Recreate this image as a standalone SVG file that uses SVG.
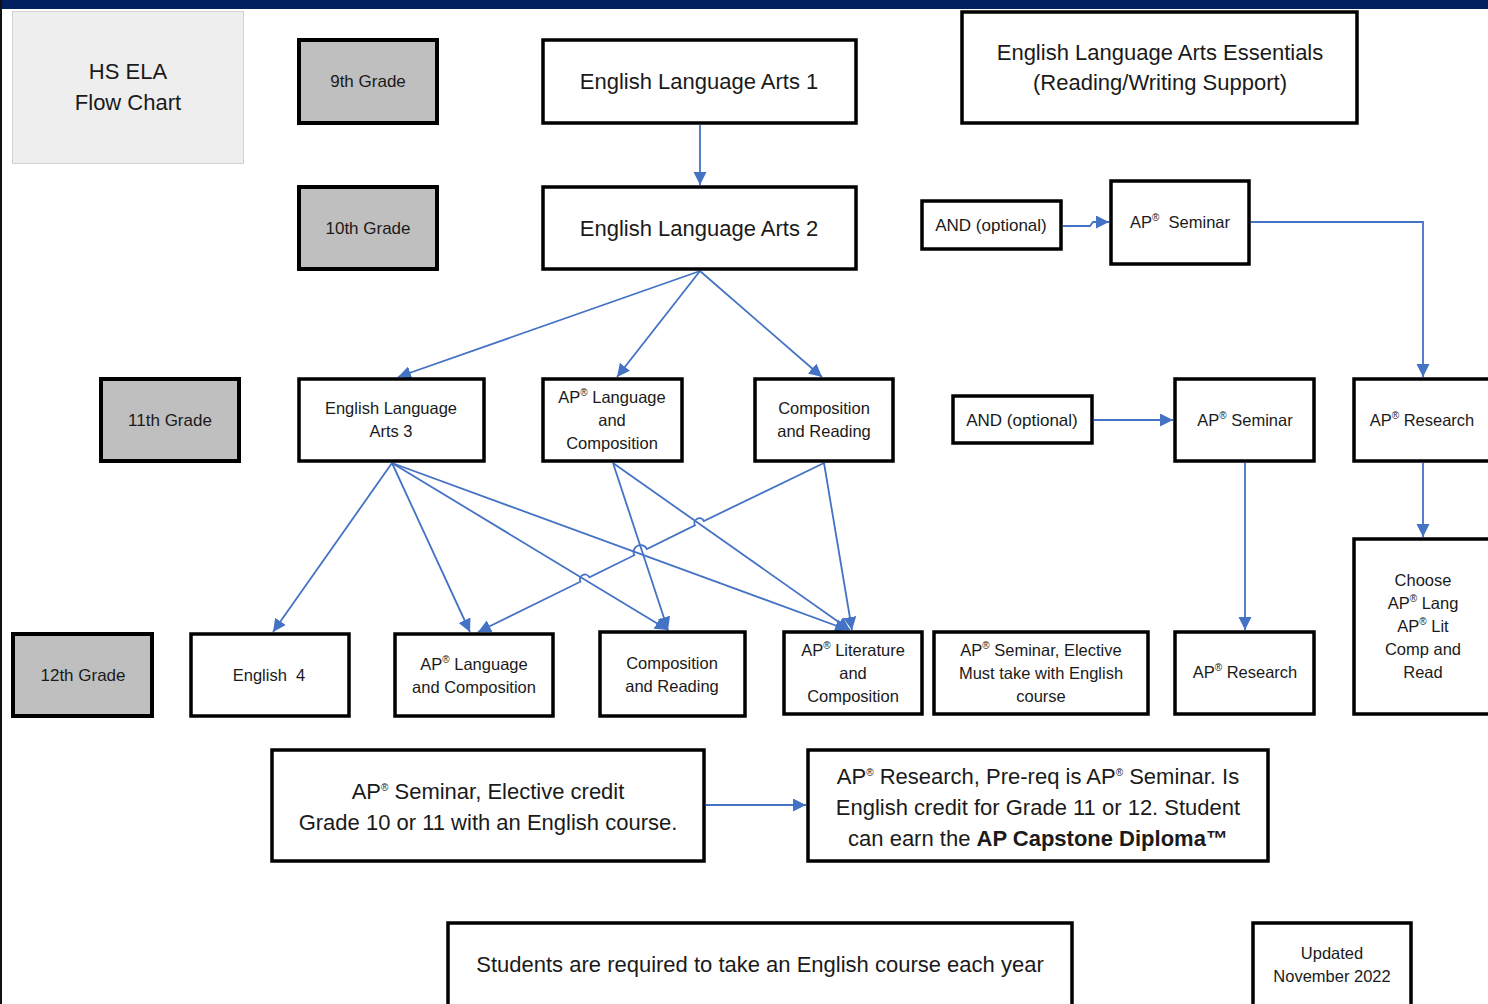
<svg xmlns="http://www.w3.org/2000/svg" width="1488" height="1004" viewBox="0 0 1488 1004">
<defs>
<style>
.box{fill:#fff;stroke:#000;stroke-width:3.5}
.grade{fill:#bfbfbf;stroke:#000;stroke-width:4}
.t{font-family:"Liberation Sans",Arial,sans-serif;fill:#1a1a1a;text-anchor:middle}
.big{font-size:22px}
.sm{font-size:16.5px}
.gr{font-size:17px}
.sup{font-size:10px}
.c{fill:none;stroke:#4472c4;stroke-width:1.8;marker-end:url(#ah)}
</style>
<marker id="ah" markerUnits="userSpaceOnUse" markerWidth="14" markerHeight="14" refX="13" refY="6.5" orient="auto">
<path d="M0,0 L13,6.5 L0,13 z" fill="#4472c4"/>
</marker>
</defs>
<rect x="0" y="0" width="1488" height="9" fill="#002060"/>
<rect x="0" y="0" width="2" height="1004" fill="#111"/>

<g id="connectors">
<path class="c" d="M700,125 V185"/>
<path class="c" d="M700,271 L398,377"/>
<path class="c" d="M700,271 L617,377"/>
<path class="c" d="M700,271 L822,377"/>
<path class="c" d="M1063,226 H1090 L1093,222 H1109"/>
<path class="c" d="M1251,222 H1423 V377"/>
<path class="c" d="M1094,420 H1173"/>
<path class="c" d="M1245,463 V630"/>
<path class="c" d="M1423,463 V537"/>
<path class="c" d="M392,463 L273,632"/>
<path class="c" d="M392,463 L470,632"/>
<path class="c" d="M392,463 L668,630"/>
<path class="c" d="M392,463 L848,630"/>
<path class="c" d="M613,463 L668,630"/>
<path class="c" d="M613,463 L850,630"/>
<path class="c" d="M824,463 L703.9,521 A5,5 0 0 0 694.9,525.4 L646.9,549 A7,7 0 0 0 634.3,555.2 L589.4,577.3 A5,5 0 0 0 580.4,581.7 L478,632"/>
<path class="c" d="M824,463 L852,630"/>
<path class="c" d="M706,805 H806"/>
</g>

<g id="title">
<rect x="12.5" y="11.5" width="231" height="152" fill="#eeeeee" stroke="#d3d3d3" stroke-width="1"/>
<text class="t big" x="128" y="79">HS ELA</text>
<text class="t big" x="128" y="110">Flow Chart</text>
</g>
<g id="g9"><rect class="grade" x="299" y="40" width="138" height="83"/><text class="t gr" x="368" y="87">9th Grade</text></g>
<g id="g10"><rect class="grade" x="299" y="187" width="138" height="82"/><text class="t gr" x="368" y="234">10th Grade</text></g>
<g id="g11"><rect class="grade" x="101" y="379" width="138" height="82"/><text class="t gr" x="170" y="426">11th Grade</text></g>
<g id="g12"><rect class="grade" x="13" y="634" width="139" height="82"/><text class="t gr" x="83" y="681">12th Grade</text></g>

<g id="ela1"><rect class="box" x="543" y="40" width="313" height="83"/><text class="t big" x="699" y="89">English Language Arts 1</text></g>
<g id="ela2"><rect class="box" x="543" y="187" width="313" height="82"/><text class="t big" x="699" y="236">English Language Arts 2</text></g>
<g id="essentials"><rect class="box" x="962" y="12" width="395" height="111"/>
<text class="t big" x="1160" y="60">English Language Arts Essentials</text>
<text class="t big" x="1160" y="90">(Reading/Writing Support)</text></g>

<g id="and1"><rect class="box" x="922" y="201" width="139" height="48"/><text class="t gr" x="991" y="231">AND (optional)</text></g>
<g id="apsem10"><rect class="box" x="1111" y="181" width="138" height="83"/><text class="t sm" x="1180" y="228">AP<tspan class="sup" dy="-7">®</tspan><tspan dy="7" xml:space="preserve">  Seminar</tspan></text></g>

<g id="ela3"><rect class="box" x="299" y="379" width="185" height="82"/>
<text class="t sm" x="391" y="414">English Language</text>
<text class="t sm" x="391" y="437">Arts 3</text></g>
<g id="aplang11"><rect class="box" x="543" y="379" width="139" height="82"/>
<text class="t sm" x="612" y="403">AP<tspan class="sup" dy="-7">®</tspan><tspan dy="7"> Language</tspan></text>
<text class="t sm" x="612" y="426">and</text>
<text class="t sm" x="612" y="449">Composition</text></g>
<g id="cr11"><rect class="box" x="755" y="379" width="138" height="82"/>
<text class="t sm" x="824" y="414">Composition</text>
<text class="t sm" x="824" y="437">and Reading</text></g>
<g id="and2"><rect class="box" x="953" y="396" width="139" height="47"/><text class="t gr" x="1022" y="426">AND (optional)</text></g>
<g id="apsem11"><rect class="box" x="1175" y="379" width="139" height="82"/><text class="t sm" x="1245" y="426">AP<tspan class="sup" dy="-7">®</tspan><tspan dy="7"> Seminar</tspan></text></g>
<g id="apres11"><rect class="box" x="1354" y="379" width="138" height="82"/><text class="t sm" x="1422" y="426">AP<tspan class="sup" dy="-7">®</tspan><tspan dy="7"> Research</tspan></text></g>
<g id="choose"><rect class="box" x="1354" y="539" width="138" height="175"/>
<text class="t sm" x="1423" y="586">Choose</text>
<text class="t sm" x="1423" y="609">AP<tspan class="sup" dy="-7">®</tspan><tspan dy="7"> Lang</tspan></text>
<text class="t sm" x="1423" y="632">AP<tspan class="sup" dy="-7">®</tspan><tspan dy="7"> Lit</tspan></text>
<text class="t sm" x="1423" y="655">Comp and</text>
<text class="t sm" x="1423" y="678">Read</text></g>

<g id="eng4"><rect class="box" x="191" y="634" width="158" height="82"/><text class="t sm" x="269" y="681" xml:space="preserve">English  4</text></g>
<g id="aplang12"><rect class="box" x="395" y="634" width="158" height="82"/>
<text class="t sm" x="474" y="670">AP<tspan class="sup" dy="-7">®</tspan><tspan dy="7"> Language</tspan></text>
<text class="t sm" x="474" y="693">and Composition</text></g>
<g id="cr12"><rect class="box" x="600" y="632" width="145" height="84"/>
<text class="t sm" x="672" y="669">Composition</text>
<text class="t sm" x="672" y="692">and Reading</text></g>
<g id="aplit12"><rect class="box" x="784" y="632" width="138" height="82"/>
<text class="t sm" x="853" y="656">AP<tspan class="sup" dy="-7">®</tspan><tspan dy="7"> Literature</tspan></text>
<text class="t sm" x="853" y="679">and</text>
<text class="t sm" x="853" y="702">Composition</text></g>
<g id="apsemelec"><rect class="box" x="934" y="632" width="214" height="82"/>
<text class="t sm" x="1041" y="656">AP<tspan class="sup" dy="-7">®</tspan><tspan dy="7"> Seminar, Elective</tspan></text>
<text class="t sm" x="1041" y="679">Must take with English</text>
<text class="t sm" x="1041" y="702">course</text></g>
<g id="apres12"><rect class="box" x="1175" y="632" width="139" height="82"/><text class="t sm" x="1245" y="678">AP<tspan class="sup" dy="-7">®</tspan><tspan dy="7"> Research</tspan></text></g>

<g id="note1"><rect class="box" x="272" y="750" width="432" height="111"/>
<text class="t big" x="488" y="799">AP<tspan class="sup" dy="-8">®</tspan><tspan dy="8"> Seminar, Elective credit</tspan></text>
<text class="t big" x="488" y="830">Grade 10 or 11 with an English course.</text></g>
<g id="note2"><rect class="box" x="808" y="750" width="460" height="111"/>
<text class="t big" x="1038" y="784">AP<tspan class="sup" dy="-8">®</tspan><tspan dy="8"> Research, Pre-req is AP</tspan><tspan class="sup" dy="-8">®</tspan><tspan dy="8"> Seminar. Is</tspan></text>
<text class="t big" x="1038" y="815">English credit for Grade 11 or 12. Student</text>
<text class="t big" x="1038" y="846">can earn the <tspan font-weight="bold">AP Capstone Diploma™</tspan></text></g>
<g id="required"><rect class="box" x="448" y="923" width="624" height="92"/>
<text class="t big" x="760" y="972">Students are required to take an English course each year</text></g>
<g id="updated"><rect class="box" x="1253" y="923" width="158" height="92"/>
<text class="t sm" x="1332" y="959">Updated</text>
<text class="t sm" x="1332" y="982">November 2022</text></g>
</svg>
